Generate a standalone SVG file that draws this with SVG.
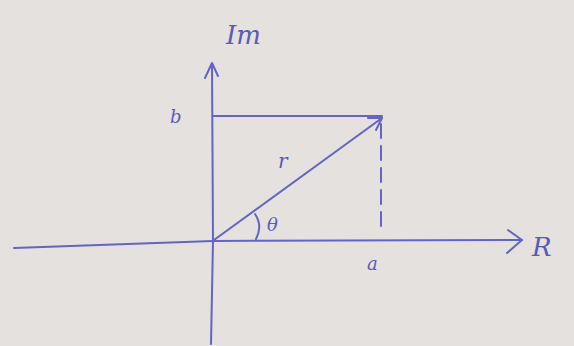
<svg xmlns="http://www.w3.org/2000/svg" width="574" height="346" viewBox="0 0 574 346">
<style>
.ink{stroke:#6464c4;stroke-width:2;fill:none;stroke-linecap:round;stroke-linejoin:round}
.lbl{font-family:"DejaVu Serif","Liberation Serif",serif;font-style:italic;fill:#5a5ab8}
</style>
<rect width="574" height="346" fill="#e4e1de"/>
<g id="connectors">
<path id="re-axis" class="ink" d="M14 248 L213 241 L522 240"/>
<path id="re-arrow" class="ink" d="M508 230 L522 240 L507 253"/>
<path id="im-axis" class="ink" d="M211 344 L213 241 L212 64"/>
<path id="im-arrow" class="ink" d="M205 78 L212 63 L218 76"/>
<path id="b-line" class="ink" d="M213 116 L382 116"/>
<path id="a-dash" class="ink" stroke-dasharray="14 8" d="M381 124 L381 228"/>
<path id="r-vector" class="ink" d="M214 240 L382 118"/>
<path id="r-arrow" class="ink" d="M368 118 L382 118 L376 130"/>
<path id="theta-arc" class="ink" d="M255 214 Q263 226 256 239"/>
</g>
<g id="label-im"><text class="lbl" x="226" y="44" font-size="26">Im</text></g>
<g id="label-b"><text class="lbl" x="170" y="123" font-size="18">b</text></g>
<g id="label-r"><text class="lbl" x="278" y="168" font-size="20">r</text></g>
<g id="label-theta"><text class="lbl" x="267" y="231" font-size="18">θ</text></g>
<g id="label-a"><text class="lbl" x="367" y="270" font-size="18">a</text></g>
<g id="label-re"><text class="lbl" x="532" y="256" font-size="26">R</text></g>
</svg>
